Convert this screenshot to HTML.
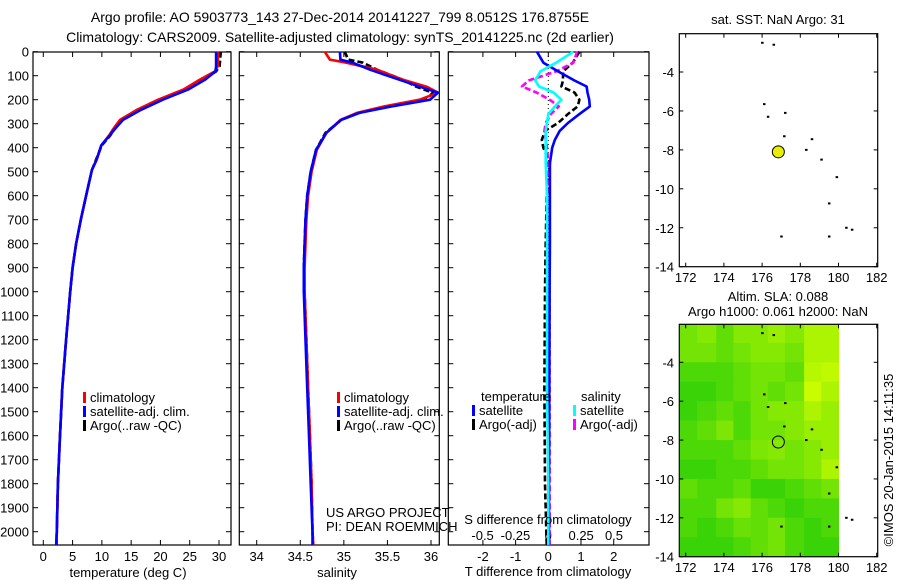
<!DOCTYPE html>
<html><head><meta charset="utf-8"><style>
html,body{margin:0;padding:0;background:#fff;}
svg{display:block;font-family:"Liberation Sans",sans-serif;}
text{fill:#000;}
</style></head><body>
<svg id="fig" width="900" height="580" viewBox="0 0 900 580">
<text x="340" y="22" font-size="14" text-anchor="middle">Argo profile: AO 5903773_143 27-Dec-2014 20141227_799 8.0512S 176.8755E</text>
<text x="340" y="42" font-size="14" text-anchor="middle">Climatology: CARS2009. Satellite-adjusted climatology: synTS_20141225.nc (2d earlier)</text>
<g id="g1"></g>
<g id="g2"></g>
<g id="g3"></g>
<g id="g4"></g>
<g id="g5"></g>
<text transform="translate(893,460) rotate(-90)" font-size="13" text-anchor="middle">©IMOS 20-Jan-2015 14:11:35</text>
</svg>
<script>
// ---- data ----
const depthT = [0,60,82,117,158,200,242,284,320,350,390,450,493,600,700,800,900,1000,1200,1400,1600,1800,2000,2055];
const tempClim = [29.8,29.8,29.3,26.7,23.9,19.6,16.0,13.1,12.0,11.2,9.9,9.1,8.3,7.3,6.4,5.6,5.0,4.6,3.9,3.25,2.85,2.5,2.3,2.2];
const tempSat = [29.5,29.5,29.4,27.6,24.7,20.4,16.7,13.6,12.3,11.3,9.9,9.1,8.3,7.3,6.4,5.6,5.0,4.6,3.9,3.25,2.85,2.5,2.3,2.2];
const tempArgo = [30.3,30.1,29.5,27.2,24.4,20.1,16.4,13.5,12.2,11.4,10.0,9.0,8.3,7.3,6.4,5.6,5.0,4.6,3.9,3.25,2.85,2.5,2.3,2.25];
const depthS = [0,33,46,75,117,146,171,200,229,255,284,338,409,500,600,700,800,900,1000,1200,1400,1600,1800,2000,2055];
const salClim = [34.78,34.84,35.03,35.38,35.68,35.95,36.08,35.87,35.45,35.15,34.96,34.8,34.69,34.63,34.59,34.57,34.56,34.55,34.55,34.57,34.59,34.61,34.63,34.64,34.65];
const salSat = [34.955,34.96,35.1,35.3,35.64,35.87,36.08,35.99,35.53,35.18,34.97,34.8,34.68,34.62,34.58,34.56,34.55,34.54,34.54,34.56,34.58,34.6,34.62,34.64,34.64];
const salArgo = [35.01,35.05,35.22,35.38,35.68,35.83,36.02,35.95,35.5,35.16,34.97,34.79,34.68,34.62,34.58,34.56,34.55,34.54,34.55,34.57,34.59,34.61,34.63,34.64,34.65];
const depthD = [0,46,82,120,145,170,200,228,260,297,330,368,400,465,600,800,1000,1400,1800,2055];
const tDiffSat = [-0.35,-0.15,0.3,0.8,1.17,1.2,1.25,1.27,0.95,0.6,0.35,0.2,0.12,0.05,0.05,0.05,0.04,0.03,0.02,0.02];
const tDiffArgo = [0.95,0.75,0.45,0.45,0.4,0.8,0.95,0.9,0.6,0.3,-0.1,-0.2,-0.15,0.05,-0.05,-0.08,-0.1,-0.12,-0.1,-0.05];
const sDiffSat = [0.19,0.06,-0.06,-0.1,-0.07,0.04,0.1,0.05,0.0,-0.01,-0.02,-0.02,-0.02,-0.02,-0.01,-0.01,-0.01,-0.01,0.0,0.0];
const sDiffArgo = [0.22,0.19,0.06,-0.15,-0.2,-0.09,0.01,0.08,0.02,-0.02,-0.03,-0.02,-0.01,0.0,0.01,0.01,0.01,0.01,0.01,0.01];
const depthTicks = [0,100,200,300,400,500,600,700,800,900,1000,1100,1200,1300,1400,1500,1600,1700,1800,1900,2000];
const tempTicks = [0,5,10,15,20,25,30];
const salTicks = [34,34.5,35,35.5,36];
const tDiffTicks = [-2,-1,0,1,2];
const sDiffTicks = [-0.5,-0.25,0,0.25,0.5];
const lonTicks = [172,174,176,178,180,182];
const latTicks = [-4,-6,-8,-10,-12,-14];
const floatLon = [176,176.6,176.1,176.3,177.2,177.15,178.6,178.3,179.1,179.9,179.5,180.4,180.7,177.0,179.5];
const floatLat = [-2.5,-2.6,-5.65,-6.3,-6.1,-7.3,-7.45,-8.0,-8.5,-9.4,-10.75,-12.0,-12.1,-12.45,-12.45];
const profLon = [176.85];
const profLat = [-8.1];
const slaRowsLat = [-2,-3,-4,-5,-6,-7,-8,-9,-10,-11,-12,-13];
const slaColsLon = [171.7,172.6,173.6,174.5,175.4,176.3,177.2,178.2,179.1];
const slaGrid = [
[0.5,0.6,0.4,0.6,0.6,0.7,0.6,0.8,0.8],
[0.5,0.5,0.4,0.5,0.6,0.6,0.5,0.8,0.8],
[0.3,0.3,0.3,0.4,0.5,0.5,0.4,0.85,0.9],
[0.2,0.2,0.3,0.4,0.5,0.4,0.5,0.95,0.8],
[0.2,0.3,0.4,0.3,0.5,0.6,0.6,0.8,0.7],
[0.3,0.4,0.55,0.3,0.5,0.5,0.6,0.7,0.7],
[0.3,0.3,0.3,0.4,0.55,0.6,0.5,0.6,0.7],
[0.2,0.2,0.3,0.3,0.4,0.5,0.5,0.6,0.8],
[0.4,0.3,0.3,0.4,0.2,0.2,0.3,0.4,0.5],
[0.3,0.3,0.5,0.6,0.4,0.3,0.2,0.3,0.3],
[0.3,0.2,0.3,0.45,0.4,0.5,0.3,0.2,0.3],
[0.2,0.2,0.2,0.3,0.4,0.5,0.3,0.2,0.2]];

const NS='http://www.w3.org/2000/svg';
function mk(parent,tag,attrs,txt){const e=document.createElementNS(NS,tag);for(const k in attrs)e.setAttribute(k,attrs[k]);if(txt!==undefined)e.textContent=txt;parent.appendChild(e);return e;}
function lin(d0,d1,p0,p1){return v=>p0+(v-d0)*(p1-p0)/(d1-d0);}
const yDepth = lin(0,1000,51.7,291.7);
const PT=52, PB=545;

function frame(g,x0,x1,y0,y1){
  const r=mk(g,'rect',{x:x0,y:y0,width:x1-x0,height:y1-y0,fill:'none',stroke:'#000','stroke-width':1.2});
  
  
}
function xTicks(g,ticks,sx,y0,y1,labelY,fmt){
  ticks.forEach(t=>{const x=sx(t);
    mk(g,'line',{x1:x,x2:x,y1:y1,y2:y1-5,stroke:'#000'});
    mk(g,'line',{x1:x,x2:x,y1:y0,y2:y0+5,stroke:'#000'});
    const tx=mk(g,'text',{x:x,y:labelY,'font-size':13,'text-anchor':'middle'},fmt?fmt(t):String(t));
    
    
  });
}
function depthTickMarks(g,x0,x1,labels){
  depthTicks.forEach(d=>{const y=yDepth(d);
    mk(g,'line',{x1:x0,x2:x0+5,y1:y,y2:y,stroke:'#000'});
    mk(g,'line',{x1:x1,x2:x1-5,y1:y,y2:y,stroke:'#000'});
    if(labels){const t=mk(g,'text',{x:x0-4,y:y+5,'font-size':13,'text-anchor':'end'},String(d));
      
      }
  });
}
function profile(g,depths,vals,sx,color,name,dash){
  const pts=depths.map((d,i)=>sx(vals[i]).toFixed(1)+','+yDepth(d).toFixed(1)).join(' ');
  const a={points:pts,fill:'none',stroke:color,'stroke-width':2.6,'stroke-linejoin':'round'};
  if(dash)a['stroke-dasharray']=dash;
  const p=mk(g,'polyline',a);
  
  
}
function legendItem(g,x,y,color,label,name){
  mk(g,'rect',{x:x,y:y-10,width:3,height:11,fill:color});
  const t=mk(g,'text',{x:x+7,y:y,'font-size':13},label);
  
  
}

// Panel 1 temperature
const g1=document.getElementById('g1');
const sxT=lin(0,30,43.3,219);
frame(g1,33,231,PT,PB);
depthTickMarks(g1,33,231,true);
xTicks(g1,tempTicks,sxT,PT,PB,561);
profile(g1,depthT,tempArgo,sxT,'#000','temp-argo-line','6,3');
profile(g1,depthT,tempClim,sxT,'#f00','temp-climatology-line');
profile(g1,depthT,tempSat,sxT,'#00f','temp-satellite-line');
let t=mk(g1,'text',{x:128,y:577,'font-size':13,'text-anchor':'middle'},'temperature (deg C)');


legendItem(g1,83,402,'#f00','climatology','legend-climatology');
legendItem(g1,83,416,'#00f','satellite-adj. clim.','legend-satellite-adj');
legendItem(g1,83,430,'#000','Argo(..raw -QC)','legend-argo');

// Panel 2 salinity
const g2=document.getElementById('g2');
const sxS=lin(34,36,256.7,431);
frame(g2,239.3,439.3,PT,PB);
depthTickMarks(g2,239.3,439.3,false);
xTicks(g2,salTicks,sxS,PT,PB,561);
profile(g2,depthS,salArgo,sxS,'#000','sal-argo-line','6,3');
profile(g2,depthS,salClim,sxS,'#f00','sal-climatology-line');
profile(g2,depthS,salSat,sxS,'#00f','sal-satellite-line');
t=mk(g2,'text',{x:337,y:577,'font-size':13,'text-anchor':'middle'},'salinity');


legendItem(g2,337,402,'#f00','climatology','legend-climatology-2');
legendItem(g2,337,416,'#00f','satellite-adj. clim.','legend-satellite-adj-2');
legendItem(g2,337,430,'#000','Argo(..raw -QC)','legend-argo-2');
t=mk(g2,'text',{x:326,y:517,'font-size':13},'US ARGO PROJECT');


t=mk(g2,'text',{x:326,y:531,'font-size':13},'PI: DEAN ROEMMICH');



// Panel 3 differences
const g3=document.getElementById('g3');
const sxD=lin(0,1,548.3,581);
const sxSD=lin(0,0.5,548.3,614);
frame(g3,448.3,649,PT,PB);
depthTickMarks(g3,448.3,649,false);
mk(g3,'line',{x1:548.3,x2:548.3,y1:PT,y2:PB,stroke:'#000','stroke-dasharray':'1,3'});
tDiffTicks.forEach(v=>{const x=sxD(v);
  mk(g3,'line',{x1:x,x2:x,y1:PB,y2:PB-5,stroke:'#000'});
  mk(g3,'line',{x1:x,x2:x,y1:PT,y2:PT+5,stroke:'#000'});
  const tx=mk(g3,'text',{x:x,y:561,'font-size':13,'text-anchor':'middle'},String(v));
  
  
});
sDiffTicks.forEach(v=>{const x=sxSD(v);
  const tx=mk(g3,'text',{x:x,y:540,'font-size':13,'text-anchor':'middle'},String(v));
  
  
});
profile(g3,depthD,tDiffArgo,sxD,'#000','t-diff-argo-line','6,3');
profile(g3,depthD,sDiffArgo,sxSD,'#f0f','s-diff-argo-line','6,3');
profile(g3,depthD,tDiffSat,sxD,'#00f','t-diff-satellite-line');
profile(g3,depthD,sDiffSat,sxSD,'#0ff','s-diff-satellite-line');
t=mk(g3,'text',{x:548,y:524,'font-size':13,'text-anchor':'middle'},'S difference from climatology');


t=mk(g3,'text',{x:548,y:576,'font-size':13,'text-anchor':'middle'},'T difference from climatology');


t=mk(g3,'text',{x:481,y:401,'font-size':13},'temperature');


t=mk(g3,'text',{x:581,y:401,'font-size':13},'salinity');


legendItem(g3,472,415,'#00f','satellite','legend-t-satellite');
legendItem(g3,472,429,'#000','Argo(-adj)','legend-t-argo');
legendItem(g3,573,415,'#0ff','satellite','legend-s-satellite');
legendItem(g3,573,429,'#f0f','Argo(-adj)','legend-s-argo');

// Maps
const sxLon=lin(172,182,685.7,876.7);
function mapAxes(g,top,bottom,yLat,labelY){
  frame(g,679.3,877.7,top,bottom);
  lonTicks.forEach(v=>{const x=sxLon(v);
    mk(g,'line',{x1:x,x2:x,y1:bottom,y2:bottom-4,stroke:'#000'});
    mk(g,'line',{x1:x,x2:x,y1:top,y2:top+4,stroke:'#000'});
    const tx=mk(g,'text',{x:x,y:labelY,'font-size':13,'text-anchor':'middle'},String(v));
    
    
  });
  latTicks.forEach(v=>{const y=yLat(v);
    mk(g,'line',{x1:679.3,x2:683.3,y1:y,y2:y,stroke:'#000'});
    mk(g,'line',{x1:877.7,x2:873.7,y1:y,y2:y,stroke:'#000'});
    const tx=mk(g,'text',{x:674,y:y+5,'font-size':13,'text-anchor':'end'},String(v));
    
    
  });
}
function floats(g,yLat,fillProf){
  floatLon.forEach((lo,i)=>{
    const d=mk(g,'rect',{x:sxLon(lo)-1,y:yLat(floatLat[i])-1,width:2.5,height:2,fill:'#000'});
    
    
  });
  profLon.forEach((lo,i)=>{
    const c=mk(g,'circle',{cx:sxLon(lo),cy:yLat(profLat[i]),r:6,fill:fillProf,stroke:'#000','stroke-width':1});
    
    
  });
}
// top map
const g4=document.getElementById('g4');
const yLat1=lin(-4,-14,72,266.7);
t=mk(g4,'text',{x:778,y:24,'font-size':13,'text-anchor':'middle'},'sat. SST: NaN Argo: 31');


mapAxes(g4,33.7,266.7,yLat1,282);
floats(g4,yLat1,'#e8f000');

// bottom map
const g5=document.getElementById('g5');
const yLat2=lin(-4,-14,362.3,556.7);
t=mk(g5,'text',{x:778,y:301,'font-size':13,'text-anchor':'middle'},'Altim. SLA: 0.088');


t=mk(g5,'text',{x:778,y:316,'font-size':13,'text-anchor':'middle'},'Argo h1000: 0.061 h2000: NaN');


function slaColor(v){const r=Math.round(20+v*190),gg=Math.round(200+v*55),b=Math.round(10*(1-v));return 'rgb('+r+','+gg+','+b+')';}
slaGrid.forEach((row,ri)=>{
  const yTop=Math.max(yLat2(slaRowsLat[ri]),324.3), yBot=yLat2(slaRowsLat[ri]-1);
  row.forEach((v,ci)=>{
    const x0=sxLon(slaColsLon[ci]);
    const x1=ci+1<slaColsLon.length?sxLon(slaColsLon[ci+1]):sxLon(180);
    const c=mk(g5,'rect',{x:Math.max(x0,679.3),y:yTop,width:x1-Math.max(x0,679.3)+0.5,height:yBot-yTop+0.5,fill:slaColor(v)});
    
    
  });
});
mapAxes(g5,324.3,556.7,yLat2,572);
floats(g5,yLat2,'none');
</script>
</body></html>
